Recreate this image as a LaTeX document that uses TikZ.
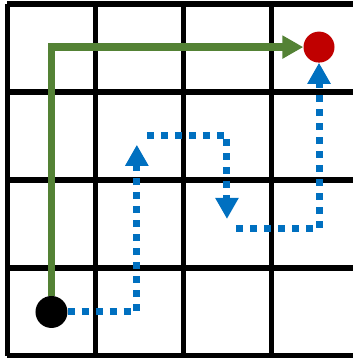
\documentclass[tikz,border=0pt]{standalone}
\usetikzlibrary{scopes,arrows.meta}

\definecolor{pathgreen}{HTML}{548235}
\definecolor{pathblue}{HTML}{0070C0}
\definecolor{goalred}{HTML}{C00000}

\tikzset{
  cell/.style={line width=5.5pt,black,step=88pt},
  spot/.style={circle,inner sep=0pt,minimum size=#1},
  route/.style={line width=7.5pt,pathgreen,-{Triangle[length=21pt,width=22pt]}},
  search/.style={line width=7pt,pathblue,dash pattern=on 7pt off 7pt,
    -{Triangle[length=21pt,width=22pt]}}
}

\begin{document}
\begin{tikzpicture}[x=88pt,y=88pt]
  \useasboundingbox (-0.085,-0.023) rectangle (3.926,4.045);
  \draw[cell] (0,0) grid (4,4);

  \node[spot=32pt,fill=black] (start) at (0.5,0.5) {};
  \node[spot=31pt,fill=goalred] (goal) at (3.54,3.51) {};

  \draw[route] (start) |- (goal);

  { [search]
    \coordinate (up) at (1.47,2.40);
    \coordinate (turn) at (1.585,2.51);
    \coordinate (down) at (2.494,1.557);
    \coordinate (back) at (2.597,1.443);
    \draw (start) -| (up);
    \draw (turn) -| (down);
    \draw (back) -| (goal);
  }
\end{tikzpicture}
\end{document}
